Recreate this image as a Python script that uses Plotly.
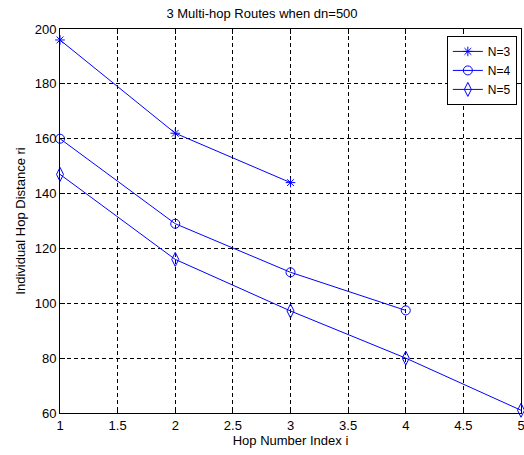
import plotly.graph_objects as go

hops_n3 = [1, 2, 3]
dist_n3 = [196, 162, 144]
hops_n4 = [1, 2, 3, 4]
dist_n4 = [160, 129, 111.3, 97.4]
hops_n5 = [1, 2, 3, 4, 5]
dist_n5 = [147, 116, 97.2, 80, 61]

series = [
    ("N=3", hops_n3, dist_n3, "asterisk-open", 8),
    ("N=4", hops_n4, dist_n4, "circle-open", 9),
    ("N=5", hops_n5, dist_n5, "diamond-tall-open", 10),
]

fig = go.Figure()
for name, x, y, sym, sz in series:
    fig.add_trace(go.Scatter(
        x=x, y=y, name=name, mode="lines+markers",
        line=dict(color="#0000FF", width=1),
        marker=dict(symbol=sym, size=sz, color="#0000FF", line=dict(color="#0000FF", width=1)),
        cliponaxis=False,
    ))

font = dict(family="Liberation Sans, Arial, sans-serif", size=13, color="black")
axis_common = dict(
    showgrid=True, gridcolor="black", gridwidth=1, griddash="4px,3px",
    showline=True, linecolor="black", linewidth=1, mirror="ticks",
    ticks="inside", ticklen=5, tickcolor="black", zeroline=False,
    tickfont=font, ticklabeloverflow="allow",
)
fig.update_layout(
    width=524, height=455,
    margin=dict(l=60, r=3, t=29, b=42, autoexpand=False),
    paper_bgcolor="white", plot_bgcolor="white",
    font=font,
    title=dict(text="3 Multi-hop Routes when dn=500", x=0.5, xanchor="center",
               y=1 - 13.5 / 455, yanchor="middle", font=font),
    xaxis=dict(range=[1, 5], tickvals=[1, 1.5, 2, 2.5, 3, 3.5, 4, 4.5, 5],
               ticktext=["1", "1.5", "2", "2.5", "3", "3.5", "4", "4.5", "5"],
               title=dict(text="Hop Number Index i", font=font, standoff=4), **axis_common),
    yaxis=dict(range=[60, 200], tickvals=[60, 80, 100, 120, 140, 160, 180, 200],
               title=dict(text="Individual Hop Distance ri", font=font, standoff=6), **axis_common),
    legend=dict(x=0.991, y=0.982, xanchor="right", yanchor="top",
                bordercolor="black", borderwidth=1, bgcolor="white",
                font=dict(family="Liberation Sans, Arial, sans-serif", size=12, color="black"),
                itemwidth=30, tracegroupgap=0),
    showlegend=True,
)

fig.write_html("out.html", config={"displayModeBar": False},
               post_script="document.body.style.margin='0';document.body.style.overflow='hidden';")
